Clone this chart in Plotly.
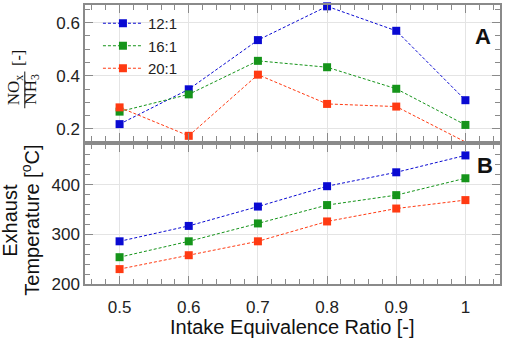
import plotly.graph_objects as go

# ---------------- data ----------------
phi = [0.5, 0.6, 0.7, 0.8, 0.9, 1.0]
series_names = ["12:1", "16:1", "20:1"]
nox_12 = [0.218, 0.349, 0.534, 0.661, 0.569, 0.308]
nox_16 = [0.265, 0.330, 0.456, 0.432, 0.351, 0.215]
nox_20 = [0.281, 0.174, 0.404, 0.294, 0.284, 0.151]
tex_12 = [286, 317, 356, 397, 425, 459]
tex_16 = [254, 286, 322, 359, 379, 413]
tex_20 = [230, 258, 286, 326, 352, 369]
x_ticks = [0.5, 0.6, 0.7, 0.8, 0.9, 1.0]
x_ticktext = ["0.5", "0.6", "0.7", "0.8", "0.9", "1"]
nox_ticks = [0.2, 0.4, 0.6]
nox_ticktext = ["0.2", "0.4", "0.6"]
tex_ticks = [200, 300, 400]
tex_ticktext = ["200", "300", "400"]

colors = ["#0a0ad2", "#15941a", "#ff3a12"]

W, H = 505, 339
ML, MR, MT, MB = 85, 3, 3, 55
PW, PH = W - ML - MR, H - MT - MB


def px(x):
    return (x - ML) / PW


def py(y):
    return 1 - (y - MT) / PH


FONT = "Arial, Liberation Sans, sans-serif"
SERIF = "Liberation Serif, Times New Roman, serif"

fig = go.Figure()

for name, ys, c in zip(series_names, [nox_12, nox_16, nox_20], colors):
    fig.add_trace(go.Scatter(
        x=phi, y=ys, name=name, mode="lines+markers",
        line=dict(color=c, width=1, dash="3px,2px"),
        marker=dict(symbol="square", size=8, color=c),
        cliponaxis=False, xaxis="x2", yaxis="y2"))

for name, ys, c in zip(series_names, [tex_12, tex_16, tex_20], colors):
    fig.add_trace(go.Scatter(
        x=phi, y=ys, name=name, mode="lines+markers", showlegend=False,
        line=dict(color=c, width=1, dash="3px,2px"),
        marker=dict(symbol="square", size=8, color=c),
        cliponaxis=False, xaxis="x", yaxis="y"))

axcol = "#8a8a8a"
gridcol = "#e4e4e4"
common_x = dict(range=[0.45, 1.05], tickmode="array", tickvals=x_ticks,
                ticks="inside", ticklen=8, tickcolor=axcol, tickwidth=1,
                showline=True, linecolor=axcol, linewidth=1.5, mirror="ticks",
                showgrid=True, gridcolor=gridcol, gridwidth=1, zeroline=False,
                minor=dict(tickmode="linear", tick0=0.5, dtick=0.02, ticks="inside",
                           ticklen=5, tickcolor=axcol, showgrid=False))
common_y = dict(ticks="inside", ticklen=8, tickcolor=axcol, tickwidth=1,
                showline=True, linecolor=axcol, linewidth=1.5, mirror="ticks",
                showgrid=True, gridcolor=gridcol, gridwidth=1, zeroline=False,
                tickfont=dict(family=FONT, size=17, color="#222"))

fig.update_layout(
    width=W, height=H,
    margin=dict(l=ML, r=MR, t=MT, b=MB),
    paper_bgcolor="white", plot_bgcolor="white",
    font=dict(family=FONT, size=17, color="#222"),
    xaxis=dict(common_x, domain=[0, 1], anchor="y", ticktext=x_ticktext,
               tickfont=dict(family=FONT, size=17, color="#222"),
               ticklabelstandoff=7),
    xaxis2=dict(common_x, domain=[0, 1], anchor="y2", matches="x", showticklabels=False),
    yaxis=dict(common_y, domain=[0, 0.5], range=[200, 481], tickmode="array",
               tickvals=tex_ticks, ticktext=tex_ticktext,
               minor=dict(tickmode="linear", tick0=200, dtick=20, ticks="inside",
                          ticklen=5, tickcolor=axcol, showgrid=False)),
    yaxis2=dict(common_y, domain=[0.512, 1], range=[0.154, 0.666], tickmode="array",
                tickvals=nox_ticks, ticktext=nox_ticktext,
                minor=dict(tickmode="linear", tick0=0.2, dtick=0.05, ticks="inside",
                           ticklen=5, tickcolor=axcol, showgrid=False)),
    legend=dict(x=px(98), y=py(5), xanchor="left", yanchor="top",
                bgcolor="rgba(0,0,0,0)", font=dict(family=FONT, size=15, color="#222"),
                tracegroupgap=0, itemwidth=40),
    showlegend=True,
)

ann = []
def add_text(text, x, y, size, family=FONT, angle=0, bold=False):
    ann.append(dict(text=("<b>%s</b>" % text) if bold else text,
                    x=px(x), y=py(y), xref="paper", yref="paper",
                    xanchor="center", yanchor="middle", showarrow=False,
                    textangle=angle, font=dict(family=family, size=size, color="#111")))

add_text("NO<sub>x</sub>", 15.5, 88, 17, SERIF, -90)
add_text("NH<sub>3</sub>", 32, 88, 17, SERIF, -90)
add_text("[-]", 18, 56, 16, SERIF, -90)
add_text("Exhaust", 10, 220, 20, FONT, -90)
add_text("Temperature [<sup>o</sup>C]", 30, 220, 20, FONT, -90)
add_text("Intake Equivalence Ratio [-]", 293, 327, 20, FONT)
add_text("A", 485, 35, 22, FONT, 0, True)
add_text("B", 487, 165, 22, FONT, 0, True)
fig.update_layout(annotations=ann)

fig.add_shape(type="line", xref="paper", yref="paper",
              x0=px(24.5), x1=px(24.5), y0=py(70), y1=py(107),
              line=dict(color="#111", width=1))

fig.write_html("out.html", config={"displayModeBar": False},
               post_script="document.body.style.margin='0';")
